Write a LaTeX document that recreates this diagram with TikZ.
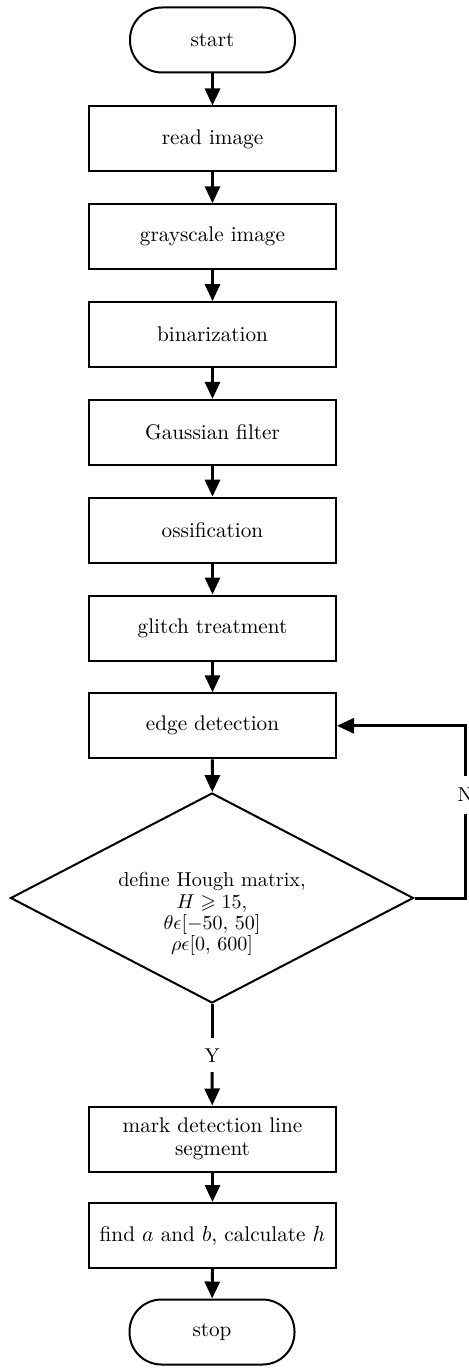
\documentclass[tikz,border=0pt]{standalone}
\usepackage{amssymb}
\usepackage{amsmath}
\usepackage{tikz}
\usetikzlibrary{shapes.geometric,arrows.meta,positioning}
\tikzset{
    proc/.style={draw, line width=1pt, minimum width=123.5pt, minimum height=32.5pt, inner sep=2pt, align=center, font=\fontsize{10.6}{11.5}\selectfont},
    term/.style={draw, line width=1pt, rounded corners=16pt, minimum width=82.5pt, minimum height=32.5pt, font=\fontsize{10.6}{11.5}\selectfont},
    decide/.style={draw, line width=1pt, diamond, aspect=1.9, inner sep=0pt, minimum width=201.5pt, minimum height=105pt},
    decidetext/.style={align=center, inner sep=0pt, font=\fontsize{10.1}{10.6}\selectfont},
    flow/.style={->, line width=1.5pt},
    tag/.style={font=\fontsize{10}{10}\selectfont, inner sep=0pt}
}
\begin{document}
\begin{tikzpicture}[x=0.5pt, y=-0.5pt, >={Triangle[width=7.5pt,length=8.5pt]}]
        \useasboundingbox (0,0) rectangle (468,1369);

        % terminal at the top
        \node[term] (start) at (212.5,40) {start};

        % the chain of processing steps
        \foreach \name/\txt [count=\c, evaluate={\yy=139+97.8*(\c-1)}] in {read/read image, gray/grayscale image, bin/binarization, gauss/Gaussian filter, oss/ossification, glitch/glitch treatment, edge/edge detection}{
            \node[proc] (\name) at (212.5,\yy) {\txt};
        }

        % the test, its text sits a little low
        \node[decide, label={[decidetext, yshift=-8pt]center:define Hough matrix,\\$H\geqslant 15$,\\$\theta\epsilon[-50,\,50]$\\$\rho\epsilon[0,\,600]$}] (hough) at (212,898) {};

        % the last steps
        \node[proc] (mark) at (212.5,1139) {mark detection line\\segment};
        \node[proc] (find) at (212.5,1235.5) {find $a$ and $b$, calculate $h$};
        \node[term] (stop) at (212,1332) {stop};

        % labels of the branches
        \node[tag] (yes) at (212,1056) {Y};
        \node[tag] (no) at (465,795) {N};

        % the arrows down the chart
        \foreach \a/\b in {start/read, read/gray, gray/bin, bin/gauss, gauss/oss, oss/glitch, glitch/edge, edge/hough, mark/find, find/stop}{
            \draw[flow] (\a) -- (\b);
        }
        \draw[line width=1.5pt] (hough.south) -- ([yshift=5.5pt]yes.north);
        \draw[flow] ([yshift=-4.5pt]yes.south) -- (mark);

        % the loop back for N
        \draw[line width=1.5pt] (hough.east) -| ([yshift=-6pt]no.south);
        \draw[flow] ([yshift=6pt]no.north) |- (edge.east);
    \end{tikzpicture}
\end{document}
